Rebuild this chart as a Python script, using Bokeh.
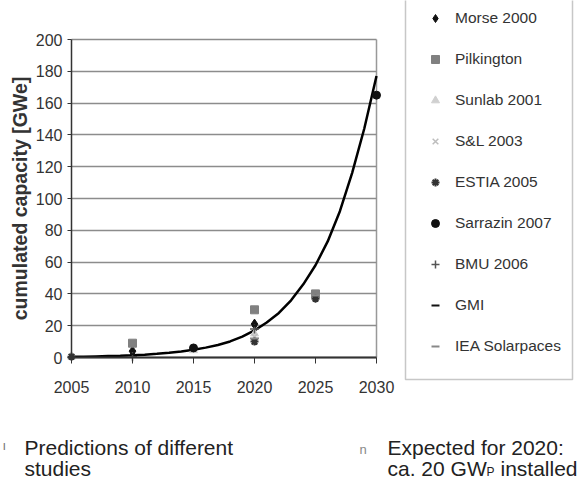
from bokeh.plotting import figure
from bokeh.models import Legend, LegendItem, Label, BoxAnnotation, Range1d, FixedTicker
from bokeh.embed import file_html
from bokeh.resources import INLINE

# ---- data ----
x_ticks = [2005, 2010, 2015, 2020, 2025, 2030]
y_ticks = [0, 20, 40, 60, 80, 100, 120, 140, 160, 180, 200]

trend_years = list(range(2005, 2031))
trend_values = [0.4, 0.5, 0.7, 0.9, 1.1, 1.4, 1.8, 2.3, 3.0, 3.8, 4.9, 6.2, 7.9,
                10.1, 13.1, 17, 22, 28, 36, 46, 58, 73, 92, 116, 144, 177]

morse_x = [2010, 2020]
morse_y = [4, 21]
pilk_x = [2010, 2020, 2025]
pilk_y = [9, 30, 40]
sunlab_x = [2005, 2015, 2020]
sunlab_y = [0.5, 4.5, 15]
sl_x = [2020]
sl_y = [13]
estia_x = [2005, 2020, 2025]
estia_y = [0.5, 10, 37]
sarrazin_x = [2015, 2030]
sarrazin_y = [6, 165]
bmu_x = [2010, 2020]
bmu_y = [0.5, 18]
gmi_x = [2010, 2020]
gmi_y = [2, 20]
iea_x = [2020, 2025]
iea_y = [12, 39]

legend_labels = ["Morse 2000", "Pilkington", "Sunlab 2001", "S&L 2003", "ESTIA 2005",
                 "Sarrazin 2007", "BMU 2006", "GMI", "IEA Solarpaces"]

FONT = "Liberation Sans"

styles = [
    dict(marker="diamond", size=10, fill_color="#111111", line_color="#111111"),
    dict(marker="square", size=8, fill_color="#808080", line_color="#808080"),
    dict(marker="triangle", size=8, fill_color="#d0d0d0", line_color="#d0d0d0"),
    dict(marker="x", size=8, line_color="#bdbdbd", line_width=1.5),
    dict(marker="asterisk", size=8, line_color="#333333", line_width=2),
    dict(marker="circle", size=8, fill_color="#111111", line_color="#111111"),
    dict(marker="cross", size=9, line_color="#555555", line_width=1.5),
    dict(marker="dash", size=5, line_color="#111111", line_width=2),
    dict(marker="dash", size=9, line_color="#888888", line_width=2),
]
series_x = [morse_x, pilk_x, sunlab_x, sl_x, estia_x, sarrazin_x, bmu_x, gmi_x, iea_x]
series_y = [morse_y, pilk_y, sunlab_y, sl_y, estia_y, sarrazin_y, bmu_y, gmi_y, iea_y]

# ---- layout (pixels) ----
W, H = 579, 479
PX_L, PX_R = 71, 376     # pixel columns of first / last x tick
PY_B, PY_T = 357, 39     # pixel rows of lowest / highest y tick
kx = (PX_R - PX_L) / (x_ticks[-1] - x_ticks[0])
ky = (PY_B - PY_T) / (y_ticks[-1] - y_ticks[0])
x_range = Range1d(x_ticks[0] - PX_L / kx, x_ticks[0] + (W - PX_L) / kx)
y_range = Range1d(y_ticks[0] - (H - PY_B) / ky, y_ticks[0] + PY_B / ky)

p = figure(width=W, height=H, output_backend="svg", toolbar_location=None,
           x_range=x_range, y_range=y_range,
           min_border_left=0, min_border_right=0, min_border_top=0, min_border_bottom=0)
p.background_fill_color = "white"
p.border_fill_color = "white"
p.outline_line_color = None

# axes drawn at the data origin
p.xaxis.fixed_location = y_ticks[0]
p.yaxis.fixed_location = x_ticks[0]
p.xaxis.bounds = (x_ticks[0], x_ticks[-1])
p.yaxis.bounds = (y_ticks[0], y_ticks[-1])
p.xaxis.ticker = FixedTicker(ticks=x_ticks)
p.yaxis.ticker = FixedTicker(ticks=y_ticks)
for ax in (p.xaxis[0], p.yaxis[0]):
    ax.minor_tick_line_color = None
    ax.major_tick_in = 0
    ax.major_label_text_font = FONT
    ax.major_label_text_font_size = "16px"
    ax.major_label_text_color = "#333333"
    ax.axis_line_color = "#333333"
    ax.major_tick_line_color = "#333333"
p.xaxis.axis_line_width = 2
p.yaxis.axis_line_width = 1.5
p.xaxis.major_tick_out = 6
p.xaxis.major_label_standoff = 17
p.yaxis.major_tick_out = 4
p.yaxis.major_label_standoff = 5

p.yaxis.axis_label = "cumulated capacity [GWe]"
p.yaxis.axis_label_text_font = FONT
p.yaxis.axis_label_text_font_style = "bold"
p.yaxis.axis_label_text_font_size = "19.5px"
p.yaxis.axis_label_text_color = "#333333"
p.yaxis.axis_label_standoff = 2

# grid: horizontal lines inside the plot area, vertical line only at the right edge
p.ygrid.grid_line_color = "#8c8c8c"
p.ygrid.grid_line_width = 1.5
p.ygrid.cross_bounds = (x_ticks[0], x_ticks[-1])
p.xgrid.ticker = FixedTicker(ticks=[x_ticks[-1]])
p.xgrid.grid_line_color = "#999999"
p.xgrid.grid_line_width = 1.5
p.xgrid.cross_bounds = (y_ticks[0], y_ticks[-1])

# trend curve and study points
p.line(trend_years, trend_values, line_color="black", line_width=2.5)
renderers = []
for xs, ys, st in zip(series_x, series_y, styles):
    renderers.append(p.scatter(xs, ys, **st))

# legend
items = [LegendItem(label=lab_text, renderers=[r]) for lab_text, r in zip(legend_labels, renderers)]
legend = Legend(items=items, location=(425, H - 356), padding=0, margin=0, spacing=21,
                label_height=20, glyph_height=20, glyph_width=20, label_standoff=10,
                border_line_alpha=0, background_fill_alpha=0,
                label_text_font=FONT, label_text_font_size="15.5px", label_text_color="#333333")
p.add_layout(legend)

p.add_layout(BoxAnnotation(left=405, right=572, bottom=H - 379, top=H + 40,
                           left_units="screen", right_units="screen",
                           bottom_units="screen", top_units="screen",
                           fill_alpha=0, line_color="#444444", line_width=1.5))

# bottom notes (y_px = wanted baseline row; Bokeh's alphabetic anchor sits ~0.45em higher)
def lab(x, y_px, text, size=21, color="#222222"):
    p.add_layout(Label(x=x, y=H - (y_px - 0.45 * size), x_units="screen", y_units="screen",
                       text=text, text_font=FONT, text_font_size=f"{size}px",
                       text_color=color, text_baseline="alphabetic"))

lab(2, 451, "ı", size=13, color="#777777")
lab(24, 456, "Predictions of different")
lab(24, 477, "studies")
lab(359, 455, "n", size=13, color="#888888")
lab(387, 456, "Expected for 2020:")
lab(387, 477, "ca. 20 GW")
lab(486, 476.5, "P", size=12)
lab(500, 477, "installed")

open("out.html", "w").write(file_html(p, INLINE))
